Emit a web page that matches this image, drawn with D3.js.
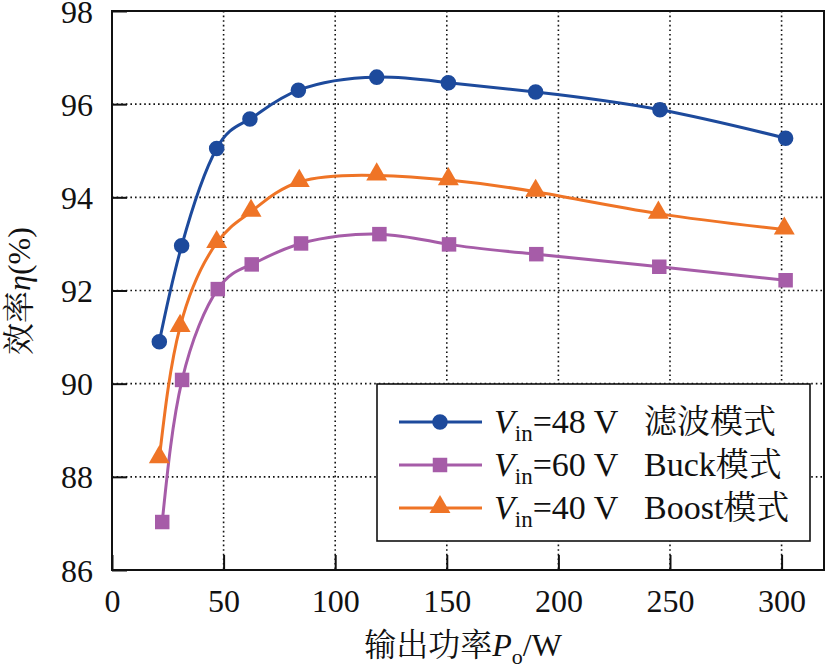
<!DOCTYPE html>
<html><head><meta charset="utf-8">
<script src="https://cdn.jsdelivr.net/npm/d3@7/dist/d3.min.js"></script>
</head>
<body style="margin:0;background:#fff">
<svg id="chart" width="827" height="670"></svg>
<script>
// ---- data ----
const xTicks = [0, 50, 100, 150, 200, 250, 300];
const yTicks = [86, 88, 90, 92, 94, 96, 98];

const x48 = [21.2, 31.2, 46.9, 61.8, 83.5, 118.6, 150.7, 189.8, 245.5, 301.8];
const y48 = [90.90, 92.96, 95.05, 95.68, 96.30, 96.58, 96.46, 96.26, 95.88, 95.27];

const x60 = [22.5, 31.4, 47.4, 62.6, 84.7, 119.8, 151.0, 190.1, 245.2, 301.8];
const y60 = [87.03, 90.08, 92.03, 92.56, 93.01, 93.21, 92.99, 92.78, 92.51, 92.22];

const x40 = [21.2, 30.5, 46.9, 62.3, 83.9, 118.6, 150.7, 189.8, 244.8, 301.2];
const y40 = [88.40, 91.22, 93.02, 93.69, 94.33, 94.47, 94.37, 94.12, 93.65, 93.31];

const seriesNames = ["=48 V", "=60 V", "=40 V"];
const seriesModeLatin = ["", "Buck", "Boost"];
const seriesModeCjk = ["滤波模式", "模式", "模式"];

// ---- layout ----
const pL = 112, pR = 824, pT = 11, pB = 570;
const xDomainMax = 319;
const xScale = d3.scaleLinear().domain([0, xDomainMax]).range([pL, pR]);
const yScale = d3.scaleLinear().domain([86, 98]).range([pB, pT]);

const svg = d3.select("#chart");
const SERIF_CSS = '"Liberation Serif", "Tinos", "Times New Roman", serif';
const CJK_CSS = '"Noto Serif CJK SC", "Noto Sans CJK SC", serif';
const FS = 32;

function serifText(sel, fs) {
  return sel.attr("font-family", "Liberation Serif").style("font-family", SERIF_CSS)
    .attr("font-size", fs || FS).attr("fill", "#111");
}
function cjk(sel) {
  return sel.attr("font-family", "Noto Serif CJK SC").style("font-family", CJK_CSS);
}
function latin(sel) {
  return sel.attr("font-family", "Liberation Serif").style("font-family", SERIF_CSS);
}

// grid
const grid = svg.append("g");
grid.selectAll("line.gx").data(xTicks.filter(d => d > 0)).enter().append("line")
  .attr("x1", d => xScale(d)).attr("x2", d => xScale(d))
  .attr("y1", pT).attr("y2", pB)
  .attr("stroke", "#111").attr("stroke-width", 1.6).attr("stroke-dasharray", "1.6,3");
grid.selectAll("line.gy").data(yTicks.filter(d => d > 86 && d < 98)).enter().append("line")
  .attr("x1", pL).attr("x2", pR)
  .attr("y1", d => yScale(d)).attr("y2", d => yScale(d))
  .attr("stroke", "#111").attr("stroke-width", 1.6).attr("stroke-dasharray", "1.6,3");

// axes with inward ticks
const xAxis = d3.axisBottom(xScale).tickValues(xTicks).tickSizeInner(-15).tickSizeOuter(0).tickFormat(d3.format("d"));
const yAxis = d3.axisLeft(yScale).tickValues(yTicks).tickSizeInner(-15).tickSizeOuter(0).tickFormat(d3.format("d"));

const gx = svg.append("g").attr("transform", `translate(0,${pB})`).call(xAxis)
  .attr("font-family", "Liberation Serif").attr("font-size", FS);
gx.select(".domain").remove();
gx.selectAll(".tick line").attr("stroke", "#111").attr("stroke-width", 2);
serifText(gx.selectAll(".tick text").attr("y", 42).attr("dy", 0));

const gy = svg.append("g").attr("transform", `translate(${pL},0)`).call(yAxis)
  .attr("font-family", "Liberation Serif").attr("font-size", FS);
gy.select(".domain").remove();
gy.selectAll(".tick line").attr("stroke", "#111").attr("stroke-width", 2);
serifText(gy.selectAll(".tick text").attr("x", -19).attr("dy", 11));

// frame
svg.append("rect").attr("x", pL).attr("y", pT).attr("width", pR - pL).attr("height", pB - pT)
  .attr("fill", "none").attr("stroke", "#111").attr("stroke-width", 2);

// series
const colors = ["#1d4a9c", "#a65ca8", "#ef7426"];
const seriesX = [x48, x60, x40];
const seriesY = [y48, y60, y40];
const symbols = [d3.symbolCircle, d3.symbolSquare, d3.symbolTriangle];
const symSizes = [190, 210, 190];

const line = d3.line().x(d => xScale(d[0])).y(d => yScale(d[1])).curve(d3.curveNatural);

const order = [1, 2, 0];
order.forEach(i => {
  const pts = seriesX[i].map((xv, k) => [xv, seriesY[i][k]]);
  svg.append("path").datum(pts).attr("d", line)
    .attr("fill", "none").attr("stroke", colors[i]).attr("stroke-width", 3);
  svg.append("g").selectAll("path").data(pts).enter().append("path")
    .attr("transform", d => `translate(${xScale(d[0])},${yScale(d[1]) + (i === 2 ? -1 : 0)})`)
    .attr("d", d3.symbol().type(symbols[i]).size(symSizes[i]))
    .attr("fill", colors[i]);
});

// legend
const lg = svg.append("g");
lg.append("rect").attr("x", 377).attr("y", 384).attr("width", 433).attr("height", 157)
  .attr("fill", "#fff").attr("stroke", "#111").attr("stroke-width", 1.6);
const rowY = [422, 465, 508];
const modeX = 644;
[0, 1, 2].forEach(i => {
  lg.append("line").attr("x1", 399).attr("x2", 482).attr("y1", rowY[i]).attr("y2", rowY[i])
    .attr("stroke", colors[i]).attr("stroke-width", 3);
  lg.append("path").attr("transform", `translate(440,${rowY[i] + (i === 2 ? -1 : 0)})`)
    .attr("d", d3.symbol().type(symbols[i]).size(symSizes[i])).attr("fill", colors[i]);
  const t = serifText(lg.append("text").attr("x", 494).attr("y", rowY[i] + 11), 34);
  latin(t.append("tspan")).attr("font-style", "italic").style("font-style", "italic").text("V");
  latin(t.append("tspan")).attr("font-size", 23).attr("dy", 8).text("in");
  latin(t.append("tspan")).attr("dy", -8).text(seriesNames[i]);
  if (seriesModeLatin[i]) {
    latin(t.append("tspan")).attr("x", modeX).text(seriesModeLatin[i]);
    cjk(t.append("tspan")).attr("font-size", 33).text(seriesModeCjk[i]);
  } else {
    cjk(t.append("tspan")).attr("x", modeX).attr("font-size", 33).text(seriesModeCjk[i]);
  }
});

// axis titles
const xt = serifText(svg.append("text").attr("x", 463).attr("y", 656).attr("text-anchor", "middle"));
cjk(xt.append("tspan")).text("输出功率");
latin(xt.append("tspan")).attr("font-style", "italic").style("font-style", "italic").text("P");
latin(xt.append("tspan")).attr("font-size", 22).attr("dy", 8).text("o");
latin(xt.append("tspan")).attr("dy", -8).text("/W");

const yt = serifText(svg.append("text").attr("transform", "translate(30,291) rotate(-90)")
  .attr("text-anchor", "middle"));
cjk(yt.append("tspan")).text("效率");
latin(yt.append("tspan")).attr("font-style", "italic").style("font-style", "italic").text("η");
latin(yt.append("tspan")).text("(%)");
</script>
</body></html>
